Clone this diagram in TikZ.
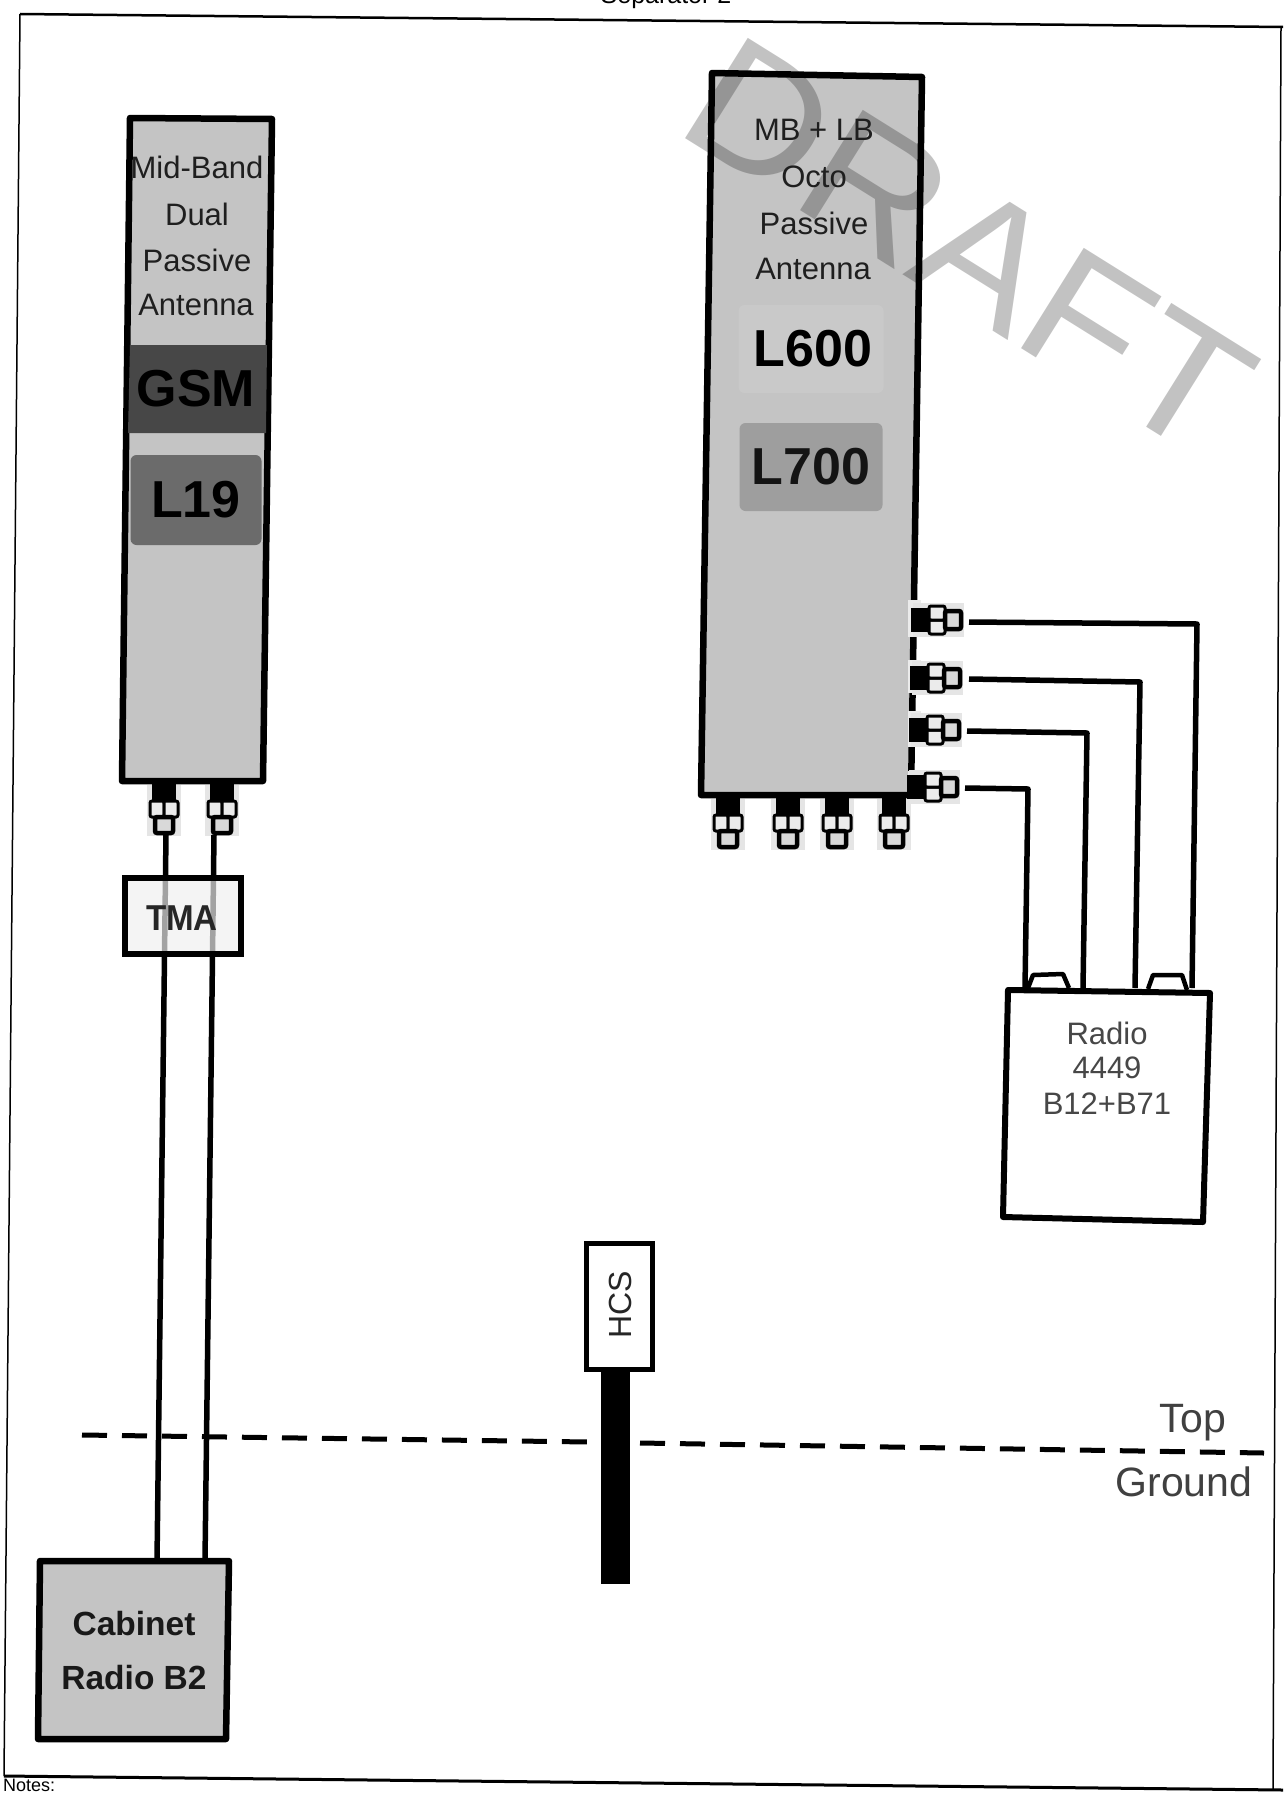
\documentclass[tikz,border=0pt]{standalone}
\usepackage{fontspec}
\setmainfont{Liberation Sans}
\tikzset{
  ln/.style={draw=black,line width=5.5pt},
  ant/.style={draw=black,line width=6.5pt,fill=black!23,line join=round},
  lab/.style={font=\fontsize{31}{31}\selectfont,text=black!88,inner sep=0pt},
  blab/.style={font=\fontsize{52}{52}\selectfont\bfseries,inner sep=0pt},
  clab/.style={font=\fontsize{33.5}{33.5}\selectfont\bfseries,inner sep=0pt,text=black!90},
  rlab/.style={font=\fontsize{31}{31}\selectfont,inner sep=0pt,text=black!72},
  band/.style={rounded corners=6pt,inner sep=0pt},
  wm/.style={font=\fontsize{172}{172}\selectfont,text=black,opacity=.24,inner sep=0pt},
  gnd/.style={font=\fontsize{41}{41}\selectfont,text=black!75,inner sep=0pt},
  dsh/.style={draw=black,line width=5pt,dash pattern=on 25pt off 15pt},
  frm/.style={draw=black,line width=2.5pt},
  conn/.pic={
    \fill[black!10] (-17,2) rectangle (17,53);
    \fill[black] (-12,0) rectangle (12,18);
    \draw[black,line width=3pt,fill=black!8,rounded corners=2pt] (-14,18) rectangle (0,34);
    \draw[black,line width=3pt,fill=black!8,rounded corners=2pt] (0,18) rectangle (14,34);
    \draw[black,line width=4.5pt,fill=black!15,rounded corners=2pt] (-9,34) rectangle (9,50);
  }
}
\begin{document}
\begin{tikzpicture}[x=1pt,y=-1pt]
\useasboundingbox (0,0) rectangle (1283,1793);
\fill[white] (0,0) rectangle (1283,1793);
% frame
\coordinate (ftl) at (20,14); \coordinate (ftr) at (1283,27);
\coordinate (fbl) at (4,1776); \coordinate (fbr) at (1283,1790);
\draw[frm] (ftl) -- (ftr);
\draw[frm,line width=1.5pt] (ftl) -- (fbl);
\draw[frm,line width=1.5pt] (1281,27) -- (1273,1790);
\draw[frm,line width=3pt] (fbl) -- (fbr);
\node[anchor=west,inner sep=0pt,font=\fontsize{18}{18}\selectfont] (notes) at (3,1785) {Notes:};
\node[inner sep=0pt,font=\fontsize{25}{25}\selectfont] (sep) at (666,-3) {Separator 2};
% left antenna
\path[ant] (130,118) -- (272,119) -- (263,781) -- (122,781) -- cycle;
\fill[black!72] (130,345) -- (267,345) -- (266,433) -- (128,433) -- cycle;
\node[band,fill=black!58,minimum width=131pt,minimum height=90pt] (l19) at (196,500) {};
\node[blab,text=black] at (196,389) (gsm) {GSM};
\node[blab,text=black] at (196,500) (l19t) {L19};
\node[lab] (t1) at (197,167) {Mid-Band};
\node[lab] (t2) at (197,214) {Dual};
\node[lab] (t3) at (197,260) {Passive};
\node[lab] (t4) at (196,305) {Antenna};
\path (164,783) pic {conn};
\path (222,783) pic {conn};
% feeders
\coordinate (cabA) at (157,1561); \coordinate (cabB) at (205,1561);
\coordinate (tA) at (166,835); \coordinate (tB) at (214,835);
\draw[ln] (tA) -- (cabA);
\draw[ln] (tB) -- (cabB);
% TMA
\node[draw=black,line width=5.5pt,fill=black!6,fill opacity=.68,draw opacity=1,minimum width=116pt,minimum height=76pt,inner sep=0pt] (tma) at (183,916) {};
\node[font=\fontsize{36}{36}\selectfont\bfseries,inner sep=0pt,text=black!85,xscale=.92] (tmal) at (182,918) {TMA};
% cabinet
\path[ant] (40,1561) -- (229,1561) -- (226,1739) -- (38,1739) -- cycle;
\node[clab] (cab1) at (134,1624) {Cabinet};
\node[clab] (cab2) at (134,1678) {Radio B2};
% right antenna
\path[ant] (712,73) -- (922,77) -- (911,795) -- (701,795) -- cycle;
\foreach \ya/\yb in {600/637,660/693,711/747,771/776}{\fill[black!8] (905,\ya) rectangle (921,\yb);\fill[black!23] (904,\ya) rectangle (908,\yb);}
\node[wm,rotate=-32,xscale=1.09] (draft) at (969,246) {DRAFT};
\node[band,fill=black!21,minimum width=145pt,minimum height=88pt] (l600) at (811,349) {};
\node[band,fill=black!38,minimum width=143pt,minimum height=88pt] (l700) at (811,467) {};
\node[blab,text=black] (l600t) at (813,349) {L600};
\node[blab,text=black!92] (l700t) at (811,467) {L700};
\node[lab] (r1) at (814,130) {MB + LB};
\node[lab] (r2) at (814,177) {Octo};
\node[lab] (r3) at (814,223) {Passive};
\node[lab] (r4) at (813,269) {Antenna};
\foreach \x in {728,788,837,894}{\path (\x,797) pic {conn};}
\path (911,620) pic[rotate=90] {conn};
\path (910,678) pic[rotate=90] {conn};
\path (909,730) pic[rotate=90] {conn};
\path (907,787) pic[rotate=90] {conn};
% radio
\path[draw=black,line width=4.5pt,fill=white,line join=round] (1028,988) -- (1033,975) -- (1063,974) -- (1069,988);
\path[draw=black,line width=4.5pt,fill=white,line join=round] (1148,989) -- (1153,975) -- (1182,975) -- (1187,990);
\path[draw=black,line width=6pt,fill=white,line join=round] (1008,990) -- (1210,993) -- (1203,1222) -- (1003,1217) -- cycle;
\node[rlab] (ra1) at (1107,1033) {Radio};
\node[rlab] (ra2) at (1107,1068) {4449};
\node[rlab] (ra3) at (1107,1104) {B12+B71};
\coordinate (c1) at (969,622); \coordinate (c2) at (969,679); \coordinate (c3) at (967,731); \coordinate (c4) at (965,788);
\coordinate (r1b) at (1192,988); \coordinate (r2b) at (1135,988); \coordinate (r3b) at (1083,988); \coordinate (r4b) at (1025,988);
\draw[ln,line join=round] (c1) -- (1197,624) -- (r1b);
\draw[ln,line join=round] (c2) -- (1140,682) -- (r2b);
\draw[ln,line join=round] (c3) -- (1087,733) -- (r3b);
\draw[ln,line join=round] (c4) -- (1028,789) -- (r4b);
% HCS
\node[draw=black,line width=5pt,fill=white,minimum width=66pt,minimum height=126pt,inner sep=0pt] (hcs) at (619,1306) {};
\node[rotate=90,inner sep=0pt,font=\fontsize{32}{32}\selectfont,text=black!85] (hcst) at (620,1305) {HCS};
\fill[black] (601,1371) rectangle (630,1584);
% dashes
\coordinate (d1) at (82,1435); \coordinate (d2) at (589,1442); \coordinate (d3) at (640,1443); \coordinate (d4) at (1264,1453);
\draw[dsh] (d1) -- (d2);
\draw[dsh] (d3) -- (d4);
\node[gnd] (top) at (1193,1423) {Top};
\node[gnd] (ground) at (1184,1482) {Ground};
\end{tikzpicture}
\end{document}
